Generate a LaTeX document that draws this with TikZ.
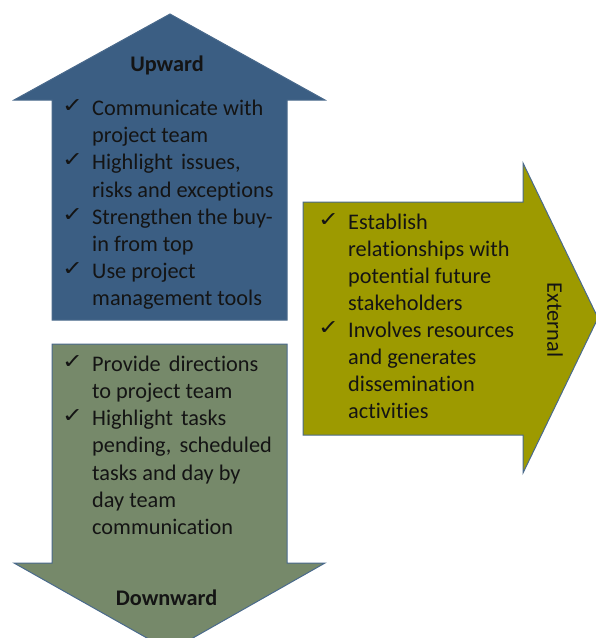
\documentclass[tikz,border=0pt]{standalone}
\usepackage{fontspec}
\setmainfont[Ligatures=NoCommon]{Carlito}
\newfontfamily\checkfont{DejaVu Sans}
\definecolor{upfill}{HTML}{3B5E83}
\definecolor{downfill}{HTML}{76896A}
\definecolor{extfill}{HTML}{9D9A00}
\definecolor{edgeline}{HTML}{4A6A8C}
\definecolor{ink}{HTML}{141414}
% check mark followed by a fixed indent for the item text
\newcommand\tick{\makebox[28pt][l]{\hspace{-2pt}\raisebox{3pt}{\resizebox{21pt}{13pt}{\checkfont ✓}}}}
% slightly wider word gap
\newcommand\wgap{\hspace{8pt}}
\begin{document}
\begin{tikzpicture}[x=1pt,y=-1pt,
  arrowshape/.style={draw=edgeline, line width=1pt, line join=miter},
  listtext/.style={anchor=base west, inner sep=0pt, text=ink},
  title/.style={anchor=base, inner sep=0pt, text=ink, font=\bfseries\fontsize{22.3}{27}\selectfont}]
\useasboundingbox (0,0) rectangle (596,638);
\clip (0,0) rectangle (596,638);

% upward arrow
\draw[arrowshape, fill=upfill] (170,14) -- (325,100) -- (287,100) -- (287,320)
  -- (52,320) -- (52,100) -- (14,100) -- cycle;
% downward arrow (tip runs past the lower edge)
\draw[arrowshape, fill=downfill] (52,344) -- (287,344) -- (287,563) -- (325,563)
  -- (170,651) -- (14,563) -- (52,563) -- cycle;
% external arrow
\draw[arrowshape, fill=extfill] (303,202) -- (523,202) -- (523,163) -- (598,318)
  -- (523,473) -- (523,435) -- (303,435) -- cycle;

\node[title] (up) at (167,71.7) {Upward};
\node[title] (down) at (166.5,605) {Downward};

\node[listtext, font=\fontsize{22.3}{27.2}\selectfont] (uplist) at (64,115.5) {%
  \begin{tabular}[t]{@{}l@{}l@{}}
  \tick & Communicate with\\
        & project team\\
  \tick & Highlight\wgap issues,\\
        & risks and exceptions\\
  \tick & Strengthen the buy-\\
        & in from top\\
  \tick & Use project\\
        & management tools
  \end{tabular}};

\node[listtext, font=\fontsize{22.3}{27.3}\selectfont] (downlist) at (64,371) {%
  \begin{tabular}[t]{@{}l@{}l@{}}
  \tick & Provide\wgap directions\\
        & to project team\\
  \tick & Highlight\wgap tasks\\
        & pending,\wgap scheduled\\
        & tasks and day by\\
        & day team\\
        & communication
  \end{tabular}};

\node[listtext, font=\fontsize{22.3}{27}\selectfont] (extlist) at (320,229.5) {%
  \begin{tabular}[t]{@{}l@{}l@{}}
  \tick & Establish\\
        & relationships with\\
        & potential future\\
        & stakeholders\\
  \tick & Involves resources\\
        & and generates\\
        & dissemination\\
        & activities
  \end{tabular}};

\node[rotate=-90, inner sep=0pt, text=ink, font=\fontsize{22.3}{27}\selectfont] (ext) at (555,320) {External};
\end{tikzpicture}
\end{document}
